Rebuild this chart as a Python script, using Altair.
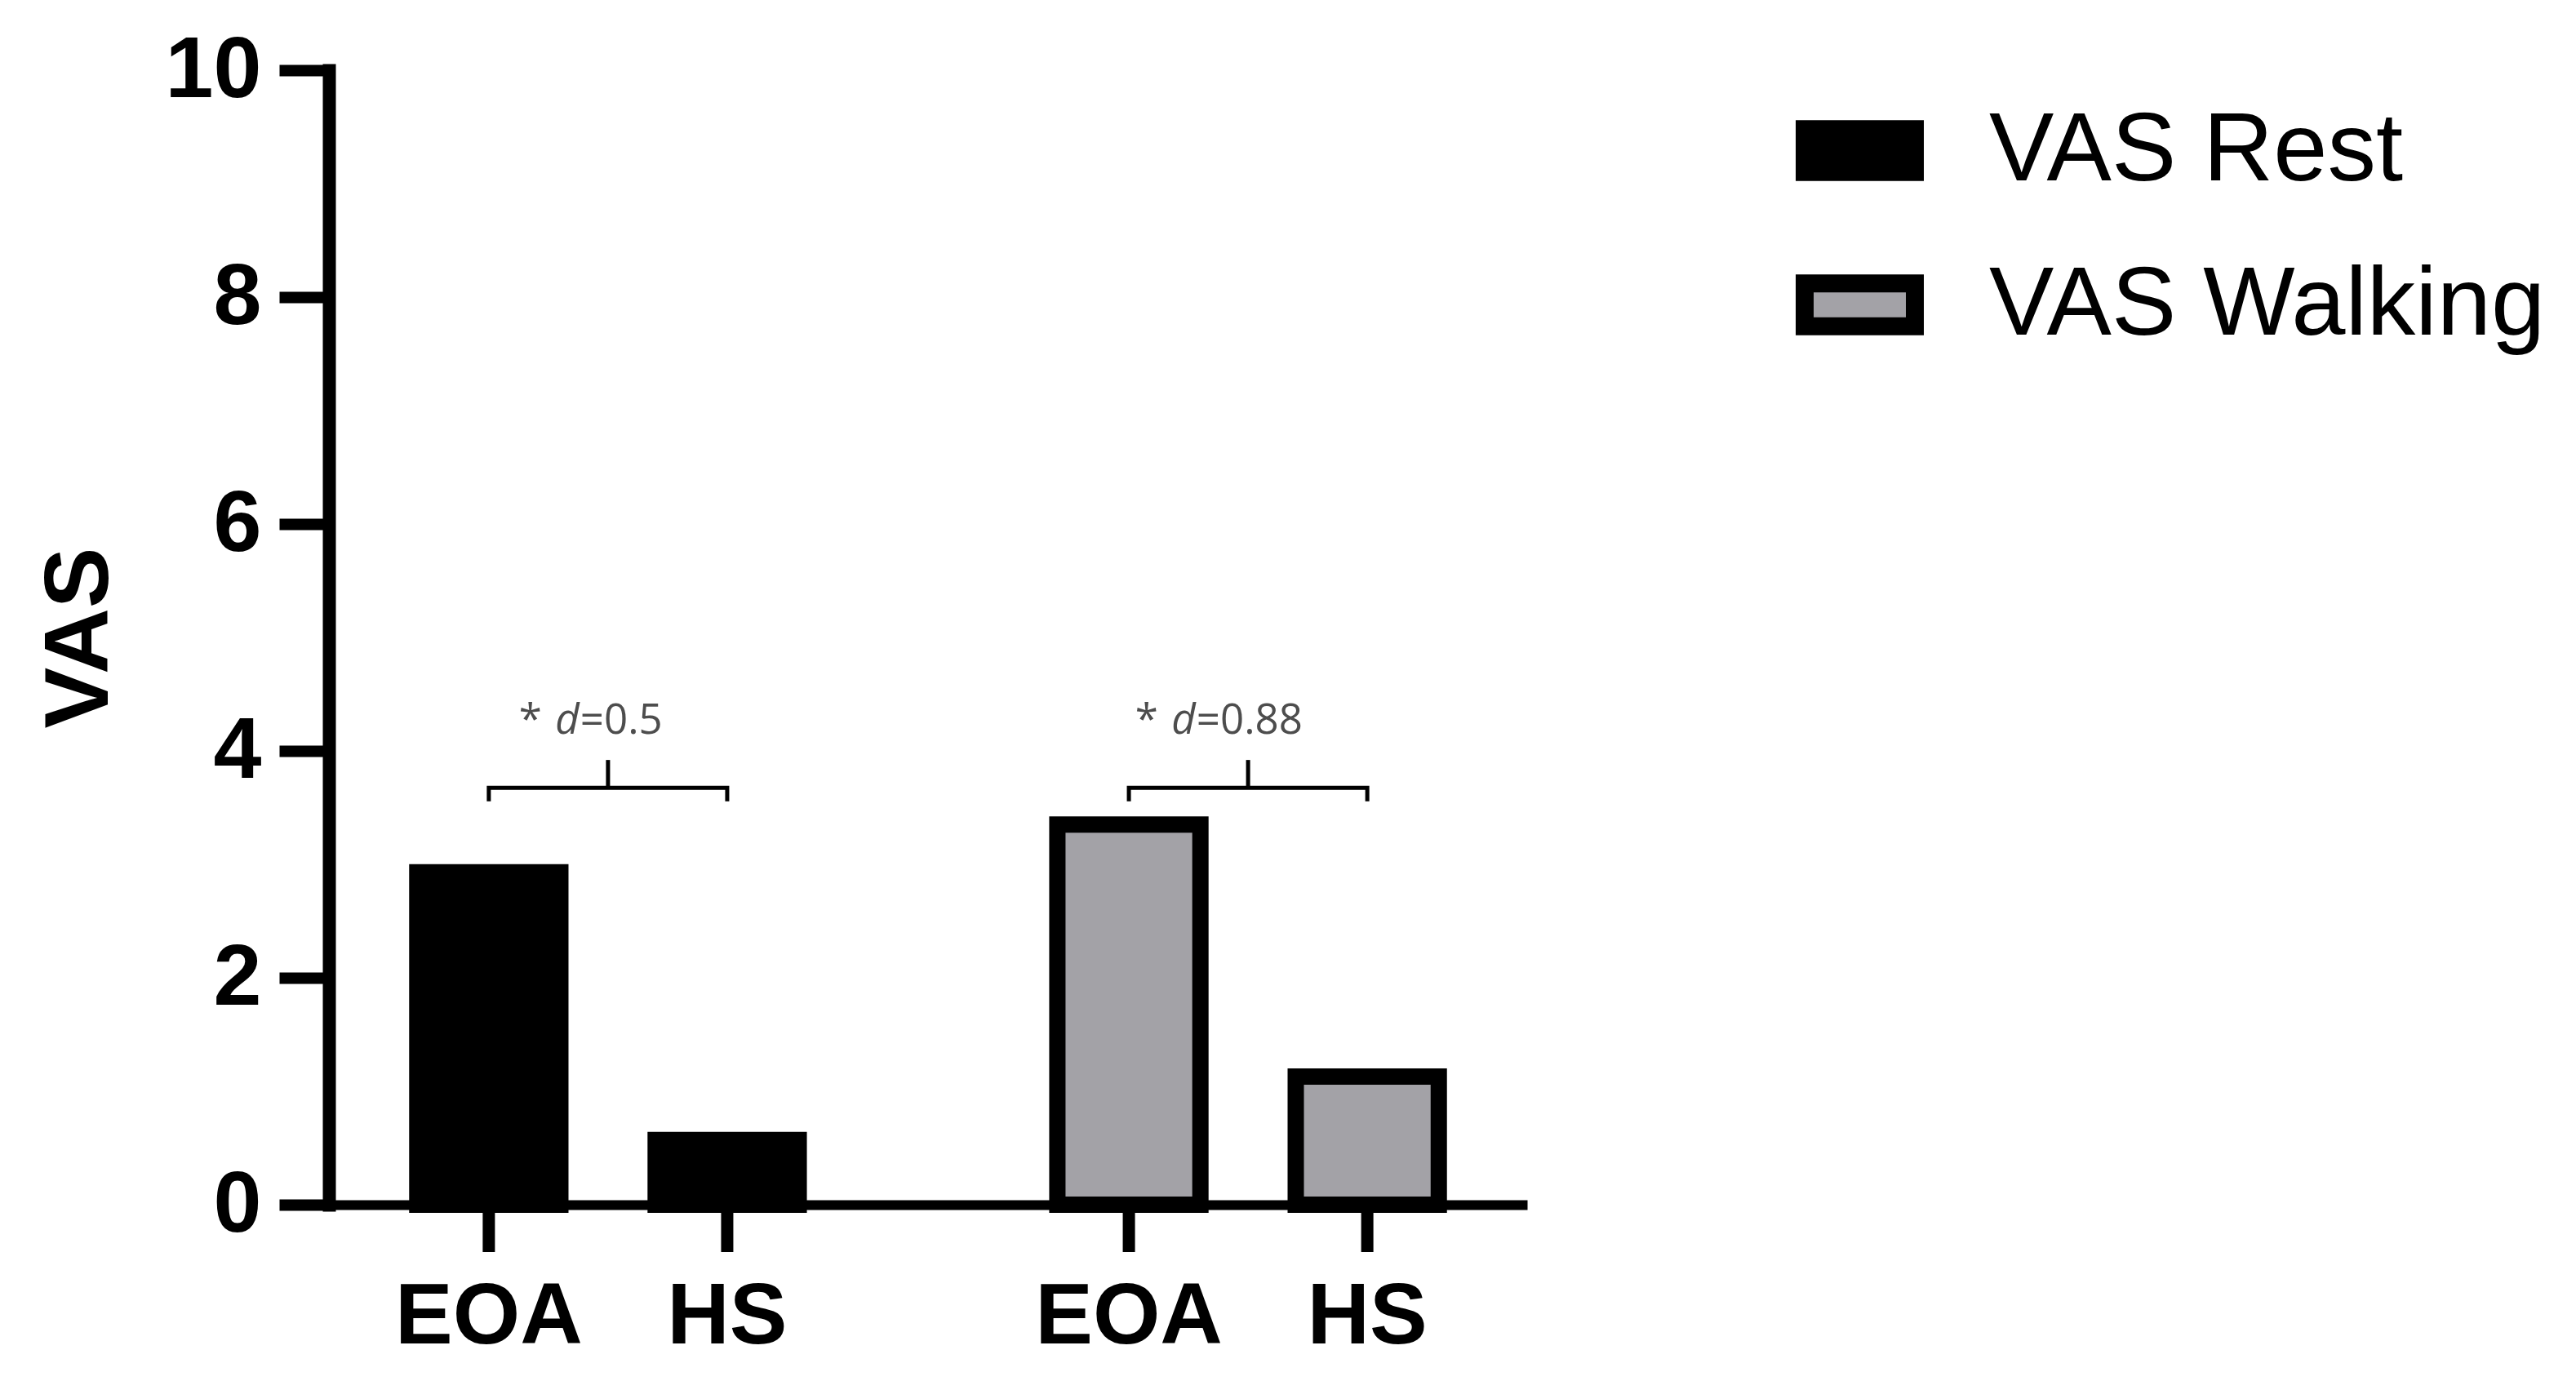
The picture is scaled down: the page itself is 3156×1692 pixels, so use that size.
import altair as alt
import pandas as pd

# ---- data ----
groups = ["VAS Rest", "VAS Rest", "VAS Walking", "VAS Walking"]
conditions = ["EOA", "HS", "EOA", "HS"]
values = [2.93, 0.57, 3.35, 1.13]

series = ["VAS Rest", "VAS Walking"]
series_colors = ["#000000", "#a3a2a7"]
cond_order = ["EOA", "HS"]
y_ticks = [0, 2, 4, 6, 8, 10]

ann_groups = ["VAS Rest", "VAS Walking"]
ann_effect = ["0.5", "0.88"]
ann_bracket = [3.675, 3.675]
ann_foot = [3.555, 3.555]
ann_stem = [3.92, 3.92]
ann_label = [4.15, 4.15]

W, H = 1468, 1390

bars = pd.DataFrame({"group": groups, "cond": conditions, "value": values})

path_rows = []
for g, b, f in zip(ann_groups, ann_bracket, ann_foot):
    path_rows += [
        {"group": g, "cond": "EOA", "value": f, "ord": 0},
        {"group": g, "cond": "EOA", "value": b, "ord": 1},
        {"group": g, "cond": "HS", "value": b, "ord": 2},
        {"group": g, "cond": "HS", "value": f, "ord": 3},
    ]
path_df = pd.DataFrame(path_rows)
stem_df = pd.DataFrame({"group": ann_groups, "value": ann_bracket, "top": ann_stem})
tick_df = pd.DataFrame({"group": groups, "cond": conditions})

x_scale = alt.Scale(domain=series, paddingInner=0.2, paddingOuter=0.036)
xo_scale = alt.Scale(domain=cond_order, paddingInner=0.4, paddingOuter=0.274)
y_scale = alt.Scale(domain=[0, 10], nice=False, zero=True)

x_axis = alt.Axis(labels=False, ticks=False, domain=True, domainWidth=12,
                  domainColor="black", domainCap="butt", title=None, grid=False)
y_axis = alt.Axis(values=y_ticks, format="d", title="VAS",
                  titleFont="Liberation Sans", titleFontSize=112, titleFontWeight="bold",
                  titleColor="black", titleAngle=270, titleX=-272, titleY=H / 2,
                  titleAlign="center", titleBaseline="alphabetic",
                  labelFont="Liberation Sans", labelFontSize=106, labelFontWeight="bold",
                  labelColor="black", labelPadding=22, tickSize=61, tickWidth=14,
                  tickColor="black", domainWidth=16, domainColor="black",
                  domainCap="square", grid=False)

X = alt.X("group:N", scale=x_scale, axis=x_axis, title=None)
XO = alt.XOffset("cond:N", scale=xo_scale)


def Y(field):
    return alt.Y(f"{field}:Q", scale=y_scale, axis=y_axis, stack=None)


legend = alt.Legend(
    title=None, orient="none", legendX=1797, legendY=20,
    symbolType="M-1,-0.39L1,-0.39L1,0.39L-1,0.39Z", symbolSize=18225,
    symbolStrokeColor="black", symbolStrokeWidth=22, symbolOpacity=1,
    labelFont="Liberation Sans", labelFontSize=119, labelColor="black",
    labelOffset=80, rowPadding=40, labelLimit=1000,
)

bar_layer = alt.Chart(bars).mark_bar(stroke="black", strokeWidth=20, strokeJoin="miter").encode(
    x=X, xOffset=XO, y=Y("value"),
    color=alt.Color("group:N", scale=alt.Scale(domain=series, range=series_colors), legend=legend),
)

tick_layer = alt.Chart(tick_df).mark_rule(color="black", strokeWidth=15).encode(
    x=X, xOffset=XO, y=alt.datum(0), y2=alt.value(H + 58),
)

tick_label_layer = alt.Chart(tick_df).mark_text(
    font="Liberation Sans", fontSize=106, fontWeight="bold", color="black",
    baseline="alphabetic", align="center", dy=170,
).encode(x=X, xOffset=XO, y=alt.datum(0), text="cond:N")

bracket_layer = alt.Chart(path_df).mark_line(color="black", strokeWidth=5, strokeJoin="miter").encode(
    x=X, xOffset=XO, y=Y("value"), detail="group:N", order="ord:Q",
)

stem_layer = alt.Chart(stem_df).mark_rule(color="black", strokeWidth=5).encode(
    x=X, y=Y("value"), y2="top:Q",
)

layers = [bar_layer, tick_layer, tick_label_layer, bracket_layer, stem_layer]

ANN_FS = 51
# Open Sans advance widths (em) to estimate where the italic "d" meets the rest
adv = {".": 0.266, "=": 0.572}
txt_style = dict(font="Open Sans", fontSize=ANN_FS, color="#4d4d4d", baseline="alphabetic")
for g, eff, ly in zip(ann_groups, ann_effect, ann_label):
    rest = "=" + eff
    right_w = sum(adv.get(c, 0.572) for c in rest) * ANN_FS
    joint = 66 - right_w
    df = pd.DataFrame({"group": [g], "value": [ly], "star": ["*"], "d": ["d"], "rest": [rest]})
    base = alt.Chart(df)
    layers.append(base.mark_text(align="right", dx=joint - 46, **txt_style).encode(
        x=X, y=Y("value"), text="star:N"))
    layers.append(base.mark_text(align="right", dx=joint, fontStyle="italic", **txt_style).encode(
        x=X, y=Y("value"), text="d:N"))
    layers.append(base.mark_text(align="left", dx=joint + 1, **txt_style).encode(
        x=X, y=Y("value"), text="rest:N"))

chart = alt.layer(*layers).properties(
    width=W, height=H,
    autosize=alt.AutoSizeParams(type="none"),
    padding={"left": 395, "top": 78, "right": 1277, "bottom": 200},
    background="white",
).configure_view(stroke=None)

chart.save("out.html", embed_options={"renderer": "svg", "actions": False})
